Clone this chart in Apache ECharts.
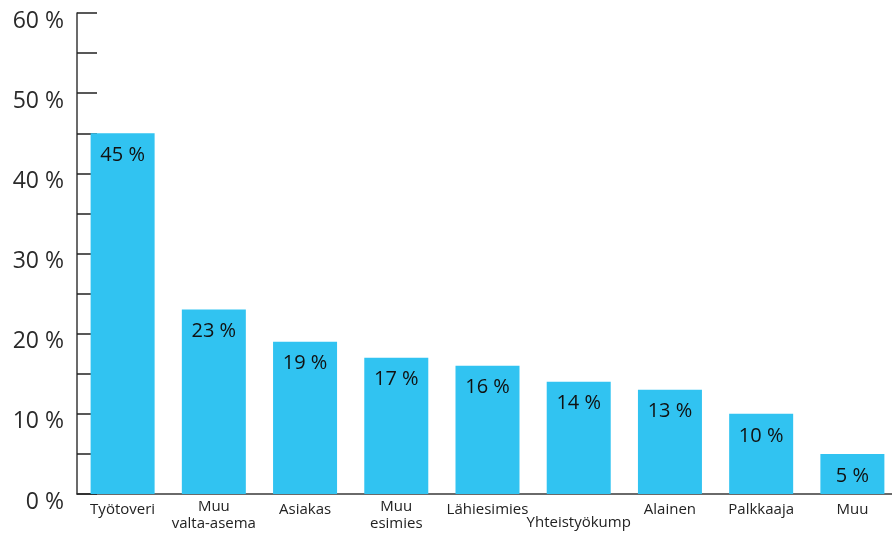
<!DOCTYPE html>
<html>
<head>
<meta charset="utf-8">
<script src="https://cdn.jsdelivr.net/npm/echarts@6/dist/echarts.min.js"></script>
<style>
  html, body { margin: 0; padding: 0; background: #fff; }
  #chart { width: 892px; height: 533px; }
</style>
</head>
<body>
<div id="chart"></div>
<script>
// Categories and shares (%)
const categories = ['Työtoveri', 'Muu\nvalta-asema', 'Asiakas', 'Muu\nesimies', 'Lähiesimies', 'Yhteistyökump', 'Alainen', 'Palkkaaja', 'Muu'];
const values = [45, 23, 19, 17, 16, 14, 13, 10, 5];
const yTicks = [0, 10, 20, 30, 40, 50, 60];

const FONT = '"Open Sans", "Noto Sans", sans-serif';

// Single-line labels sit a little lower than two-line ones; the long one drops further
function categoryItem(c) {
  if (c === 'Yhteistyökump') return { value: c, textStyle: { padding: [16, 0, 0, 0] } };
  if (c.indexOf('\n') < 0) return { value: c, textStyle: { padding: [3, 0, 0, 0] } };
  return c;
}

const chart = echarts.init(document.getElementById('chart'), null, { renderer: 'canvas' });

chart.setOption({
  animation: false,
  grid: { left: 77, top: 13, width: 821, height: 481, containLabel: false, outerBoundsMode: 'none' },
  xAxis: {
    type: 'category',
    data: categories.map(categoryItem),
    axisLine: { lineStyle: { color: '#3a3a3a', width: 1.5 } },
    axisTick: { show: false },
    axisLabel: { color: '#222', fontFamily: FONT, fontSize: 15, margin: 4, lineHeight: 17, interval: 0 }
  },
  yAxis: {
    type: 'value',
    min: 0, max: 60, interval: 5,
    splitLine: { show: false },
    axisLine: { show: true, lineStyle: { color: '#3a3a3a', width: 1.5 } },
    axisTick: { show: true, inside: true, length: 20, lineStyle: { color: '#222', width: 1.5 } },
    axisLabel: {
      color: '#2a2a2a', fontFamily: FONT, fontSize: 23, margin: 13,
      verticalAlign: 'top', lineHeight: 16,
      formatter: v => yTicks.includes(v) ? v + ' %' : ''
    }
  },
  series: [{
    type: 'bar',
    data: values,
    barWidth: 64,
    itemStyle: { color: '#31c3f1' },
    label: {
      show: true, position: 'insideTop', distance: 12,
      color: '#111', fontFamily: FONT, fontSize: 20,
      formatter: p => p.value + ' %'
    }
  }]
});
</script>
</body>
</html>
